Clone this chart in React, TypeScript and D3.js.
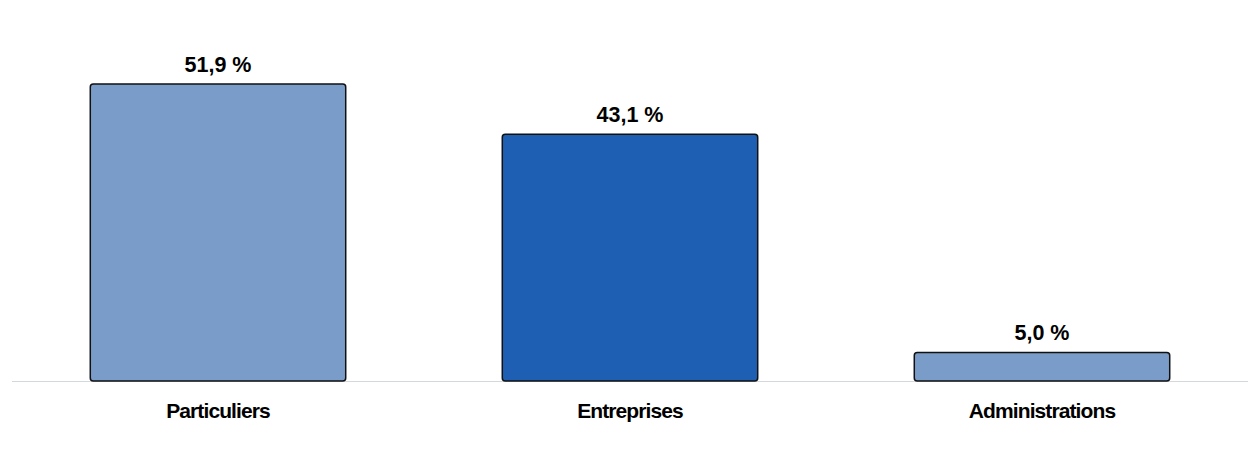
import React, { useEffect, useRef } from 'react';
import * as d3 from 'd3';

// Répartition par type de client (en %)
const categories = ['Particuliers', 'Entreprises', 'Administrations'];
const values = [51.9, 43.1, 5.0];
const barColors = ['#7a9cc8', '#1e5fb4', '#7a9cc8'];

const width = 1260;
const height = 450;

const App: React.FC = () => {
  const svgRef = useRef<SVGSVGElement>(null);

  useEffect(() => {
    if (!svgRef.current) return;
    const svg = d3.select(svgRef.current);
    svg.selectAll('*').remove();

    const baseline = 381;

    const x = d3.scaleBand<string>()
      .domain(categories)
      .range([12, 1248])
      .paddingInner(0.38)
      .paddingOuter(0.19);

    // 51.9 % -> 297px
    const y = d3.scaleLinear()
      .domain([0, 51.9])
      .range([baseline, 84]);

    // baseline
    svg.append('line')
      .attr('x1', 12)
      .attr('x2', 1248)
      .attr('y1', baseline + 0.5)
      .attr('y2', baseline + 0.5)
      .style('stroke', '#d3d8dc')
      .style('stroke-width', 1.2);

    const data = categories.map((c, i) => ({ name: c, value: values[i], color: barColors[i] }));

    // bars
    svg.selectAll('.bar')
      .data(data)
      .enter().append('rect')
      .attr('class', 'bar')
      .attr('x', d => x(d.name)!)
      .attr('y', d => y(d.value))
      .attr('width', x.bandwidth())
      .attr('height', d => baseline - y(d.value))
      .attr('rx', 3)
      .style('fill', d => d.color)
      .style('stroke', '#111')
      .style('stroke-width', 1.5);

    // value labels
    svg.selectAll('.value')
      .data(data)
      .enter().append('text')
      .attr('class', 'value')
      .attr('x', d => x(d.name)! + x.bandwidth() / 2)
      .attr('y', d => y(d.value) - 12)
      .attr('text-anchor', 'middle')
      .style('font-family', '"Liberation Sans", Arial, sans-serif')
      .style('font-weight', 'bold')
      .style('font-size', '21.5px')
      .style('fill', '#000')
      .text(d => `${d.value.toFixed(1).replace('.', ',')} %`);

    // category labels
    svg.selectAll('.cat')
      .data(data)
      .enter().append('text')
      .attr('class', 'cat')
      .attr('x', d => x(d.name)! + x.bandwidth() / 2)
      .attr('y', 418)
      .attr('text-anchor', 'middle')
      .style('font-family', '"Liberation Sans", Arial, sans-serif')
      .style('font-weight', 'bold')
      .style('font-size', '21px')
      .style('letter-spacing', '-0.9px')
      .style('fill', '#000')
      .text(d => d.name);
  }, []);

  return (
    <div style={{ position: 'absolute', left: 0, top: 0, width, height, background: '#fff' }}>
      <svg ref={svgRef} width={width} height={height}></svg>
    </div>
  );
};

export default App;
